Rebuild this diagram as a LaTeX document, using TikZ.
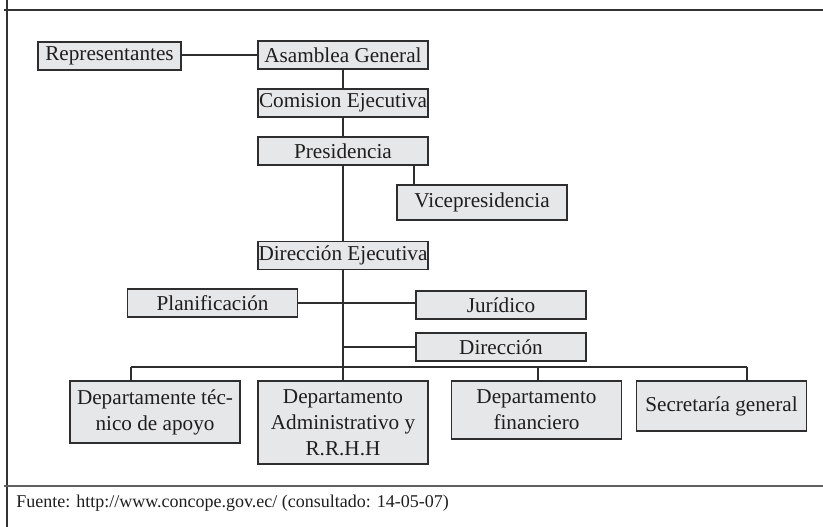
\documentclass[tikz,border=0pt]{standalone}
\usepackage{fontspec}
\setmainfont{Liberation Serif}
\definecolor{boxfill}{HTML}{E6E7E8}
\definecolor{boxline}{HTML}{2E2E2E}
\definecolor{inkcol}{HTML}{1E1E1E}
\definecolor{framecol}{HTML}{333333}
\definecolor{rulecol}{HTML}{606060}
\begin{document}
\begin{tikzpicture}[x=0.75pt,y=-0.75pt,
  orgbox/.style={draw=boxline, fill=boxfill, line width=0.9pt, inner sep=0pt,
    align=center, text=inkcol, font=\fontsize{15.9}{19.5}\selectfont},
  wide/.style={orgbox, minimum width=127.5pt, minimum height=21pt},
  link/.style={draw=boxline, line width=0.9pt},
  framerule/.style={draw=framecol, line width=1.1pt}]
\useasboundingbox (0,0) rectangle (823,527);

% outer frame and source rule
\draw[framerule] (7,0) -- (7,527);
\draw[framerule] (4,10) -- (823,10);
\draw[framerule, draw=rulecol] (4,486) -- (823,486);

% governing bodies
\node[orgbox, minimum width=107.25pt, minimum height=21pt] (rep) at (109.5,56) {Representantes};
\node[wide] (asam) at (343,55) {Asamblea General};
\node[wide] (com) at (343,103) {Comision Ejecutiva};
\node[wide] (pres) at (343,151) {Presidencia};
\node[wide, minimum height=26.25pt] (vice) at (482,202.5) {Vicepresidencia};
\node[wide] (dire) at (343,255.5) {Dirección Ejecutiva};

% staff units
\node[wide] (plan) at (212.5,303) {Planificación};
\node[wide] (jur) at (501,305) {Jurídico};
\node[wide] (dir) at (501,347) {Dirección};

% departments
\node[wide, minimum height=46.5pt] (tec) at (155,412) {Departamente téc-\\nico de apoyo};
\node[wide, minimum height=62.25pt] (adm) at (343,422.5) {Departamento\\Administrativo y\\R.R.H.H};
\node[wide, minimum height=43.5pt] (fin) at (536.5,410) {Departamento\\financiero};
\node[wide, minimum height=37.5pt] (sec) at (721.5,406) {Secretaría general};

% tap points
\coordinate (vtap) at (414,0);
\coordinate (tapT) at (131,367);
\coordinate (tapF) at (538,367);
\coordinate (tapS) at (747,367);

% connectors
\draw[link] (asam.west -| rep.east) -- (asam.west);
\draw[link] (asam.south) -- (com.north);
\draw[link] (com.south) -- (pres.north);
\draw[link] (pres.south) -- (dire.north);
\draw[link] (pres.south -| vtap) -- (vice.north -| vtap);
\draw[link] (dire.south) -- (adm.north);
\draw[link] (plan.east) -- (plan.east -| jur.west);
\draw[link] (dire.south |- dir.west) -- (dir.west);
\draw[link] (tapT) -- (tapS);
\draw[link] (tapT) -- (tapT |- tec.north);
\draw[link] (tapF) -- (tapF |- fin.north);
\draw[link] (tapS) -- (tapS |- sec.north);

% source note
\node[anchor=west, inner sep=0pt, text=inkcol, font=\fontsize{13.5}{16}\selectfont] (src) at (16,503)
  {Fuente: http://www.concope.gov.ec/ (consultado: 14-05-07)};
\end{tikzpicture}
\end{document}
